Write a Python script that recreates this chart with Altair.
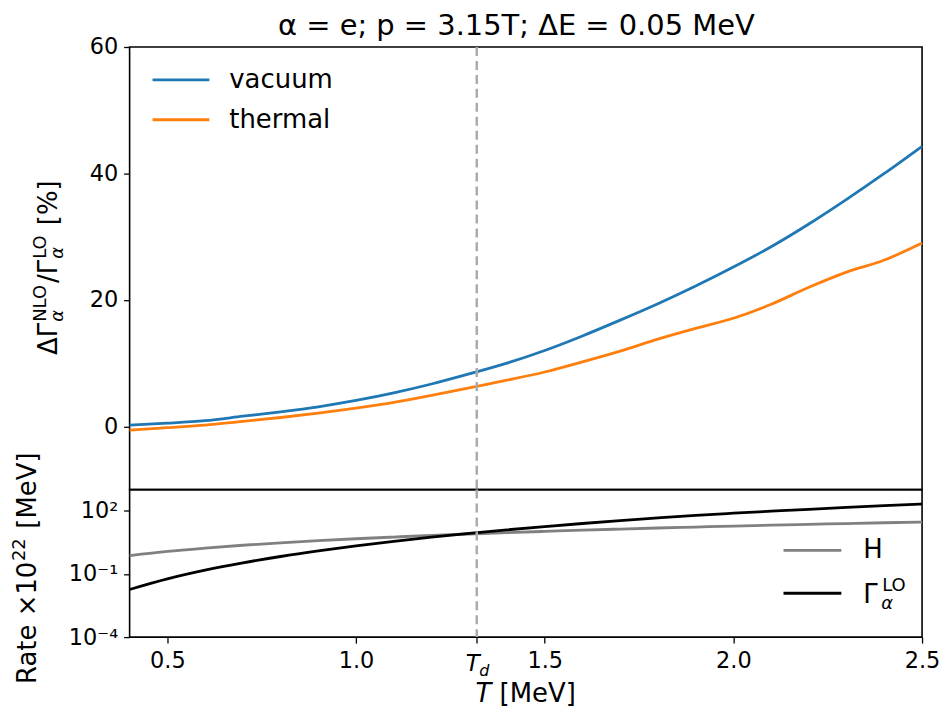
import altair as alt
import pandas as pd

# ---------------- data ----------------
T = [0.4, 0.5, 0.6, 0.7, 0.8, 0.9, 1.0, 1.1, 1.2, 1.3, 1.4, 1.5,
     1.6, 1.7, 1.8, 1.9, 2.0, 2.1, 2.2, 2.3, 2.4, 2.5]
vacuum = [0.2, 0.5, 0.9, 1.6, 2.3, 3.1, 4.1, 5.3, 6.7, 8.3, 10.0, 12.0,
          14.3, 16.8, 19.4, 22.2, 25.2, 28.4, 32.0, 35.9, 40.0, 44.3]
thermal = [-0.6, -0.2, 0.2, 0.8, 1.4, 2.1, 2.9, 3.8, 4.9, 6.1, 7.3, 8.6,
           10.2, 11.9, 13.8, 15.5, 17.1, 19.3, 22.0, 24.4, 26.3, 29.0]
hubble = [0.74, 1.16, 1.66, 2.28, 2.97, 3.76, 4.64, 5.6, 6.7, 7.8, 9.1, 10.4,
          11.9, 13.4, 15.0, 16.7, 18.6, 20.5, 22.4, 24.5, 26.7, 28.5]
gamma_lo = [0.0182, 0.058, 0.150, 0.334, 0.668, 1.23, 2.13, 3.50, 5.51, 8.36, 12.3, 17.6,
            24.6, 33.7, 45.4, 60.0, 75.7, 94.0, 116.0, 142.0, 172.0, 207.0]
T_d = 1.32

top_series = ["vacuum", "thermal"]
top_colors = ["#1f77b4", "#ff7f0e"]
bot_series = ["H", "Gamma_LO"]
bot_colors = ["#808080", "#000000"]
x_ticks = [0.5, 1.0, 1.5, 2.0, 2.5]
top_yticks = [0, 20, 40, 60]
bot_yticks = [1e-4, 1e-1, 1e2]

FONT = "DejaVu Sans"
W, H_TOP, H_BOT = 795, 444, 148
LW = 2.8

n = len(T)
top_df = pd.DataFrame({"T": T + T, "value": vacuum + thermal,
                       "series": [top_series[0]] * n + [top_series[1]] * n})
bot_df = pd.DataFrame({"T": T + T, "rate": hubble + gamma_lo,
                       "series": [bot_series[0]] * n + [bot_series[1]] * n})
td_df = pd.DataFrame({"T": [T_d]})
dummy = pd.DataFrame({"d": [0]})

x_scale = alt.Scale(domain=[0.4, 2.5], nice=False, zero=False)


def axis_common(**kw):
    base = dict(domain=False, grid=False, ticks=True, tickColor="black", tickSize=6,
                tickWidth=1.3, labelFont=FONT, labelFontSize=22.5, labelColor="black",
                labelPadding=6, title=None, labelOverlap=False)
    base.update(kw)
    return base


def text(s, x, y, size=26, angle=0, italic=False, align="left", baseline="alphabetic"):
    return alt.Chart(dummy).mark_text(
        text=s, font=FONT, fontSize=size, fontStyle="italic" if italic else "normal",
        angle=angle, align=align, baseline=baseline, color="black"
    ).encode(x=alt.value(x), y=alt.value(y))


def legend_line(x1, x2, y, color):
    return alt.Chart(dummy).mark_rule(color=color, strokeWidth=LW).encode(
        x=alt.value(x1), x2=alt.value(x2), y=alt.value(y))


def td_rule():
    return alt.Chart(td_df).mark_rule(color="#ababab", strokeWidth=2.5, strokeDash=[9, 5]).encode(
        x=alt.X("T:Q"))


# ---------------- top panel ----------------
top_lines = alt.Chart(top_df).mark_line(strokeWidth=LW, interpolate="monotone").encode(
    x=alt.X("T:Q", scale=x_scale, axis=None),
    y=alt.Y("value:Q", scale=alt.Scale(domain=[-10, 60], nice=False, zero=False),
            axis=alt.Axis(values=top_yticks, **axis_common())),
    color=alt.Color("series:N", scale=alt.Scale(domain=top_series, range=top_colors), legend=None),
)

bx, y0 = -73, 309
top_ytitle = [
    text("ΔΓ", bx, y0, 26, 270),
    text("α", bx + 6, y0 - 33.3, 18, 270, italic=True),
    text("NLO", bx - 11, y0 - 33.3, 18, 270),
    text("/Γ", bx, y0 - 72.3, 26, 270),
    text("α", bx + 6, y0 - 96.5, 18, 270, italic=True),
    text("LO", bx - 11, y0 - 96.5, 18, 270),
    text("[%]", bx, y0 - 130.3, 26, 270),
]
top_legend = [
    legend_line(23, 80, 33, top_colors[0]),
    legend_line(23, 80, 73, top_colors[1]),
    text("vacuum", 100, 33, 26, baseline="middle"),
    text("thermal", 100, 73, 26, baseline="middle"),
]
title = text("α = e; p = 3.15T; ΔE = 0.05 MeV", 388, -12, 29, align="center")

top = alt.layer(top_lines, td_rule(), *top_legend, *top_ytitle, title).properties(
    width=W, height=H_TOP)

# ---------------- bottom panel ----------------
xvals = sorted(x_ticks + [T_d])
bot_lines = alt.Chart(bot_df).mark_line(strokeWidth=LW, interpolate="monotone").encode(
    x=alt.X("T:Q", scale=x_scale,
            axis=alt.Axis(values=xvals, labelFlush=False,
                          labelExpr="abs(datum.value - 1.32) < 0.001 ? '' : format(datum.value, '.1f')",
                          **axis_common())),
    y=alt.Y("rate:Q", scale=alt.Scale(type="log", domain=[1e-4, 1e3], nice=False),
            axis=alt.Axis(values=bot_yticks,
                          labelExpr="datum.value > 10 ? '10²' : (datum.value > 0.01 ? '10⁻¹' : '10⁻⁴')",
                          **axis_common())),
    color=alt.Color("series:N", scale=alt.Scale(domain=bot_series, range=bot_colors), legend=None),
)

td_T = alt.Chart(td_df).mark_text(text="T", font=FONT, fontSize=23, fontStyle="italic",
                                  align="left", baseline="alphabetic", dx=-11, color="black").encode(
    x=alt.X("T:Q"), y=alt.value(H_BOT + 34))
td_d = alt.Chart(td_df).mark_text(text="d", font=FONT, fontSize=16, fontStyle="italic",
                                  align="left", baseline="alphabetic", dx=2.5, dy=5, color="black").encode(
    x=alt.X("T:Q"), y=alt.value(H_BOT + 34))

xt0 = 347
x_title = [
    text("T", xt0, H_BOT + 65.5, 26, italic=True),
    text("[MeV]", xt0 + 24.2, H_BOT + 65.5, 26),
]

bbx, by0 = -93.5, 195
bot_ytitle = [
    text("Rate ×10", bbx, by0, 26, 270),
    text("22", bbx - 11, by0 - 123.3, 18, 270),
    text("[MeV]", bbx, by0 - 123.3 - 23.2 - 9.3, 26, 270),
]
bot_legend = [
    legend_line(656, 714, 61, bot_colors[0]),
    legend_line(656, 714, 104, bot_colors[1]),
    text("H", 736, 61, 26, baseline="middle"),
    text("Γ", 736, 113.5, 26),
    text("α", 754, 119.5, 18, italic=True),
    text("LO", 755, 102, 18),
]

bottom = alt.layer(bot_lines, td_rule(), td_T, td_d, *x_title, *bot_ytitle, *bot_legend).properties(
    width=W, height=H_BOT)

chart = alt.vconcat(top, bottom, spacing=0, bounds="flush").resolve_scale(
    color="independent").configure_view(stroke="black", strokeWidth=1.6).properties(
    padding={"top": 2, "left": 2, "right": 0, "bottom": 0})

chart.save("out.html", embed_options={"renderer": "svg", "actions": False})
